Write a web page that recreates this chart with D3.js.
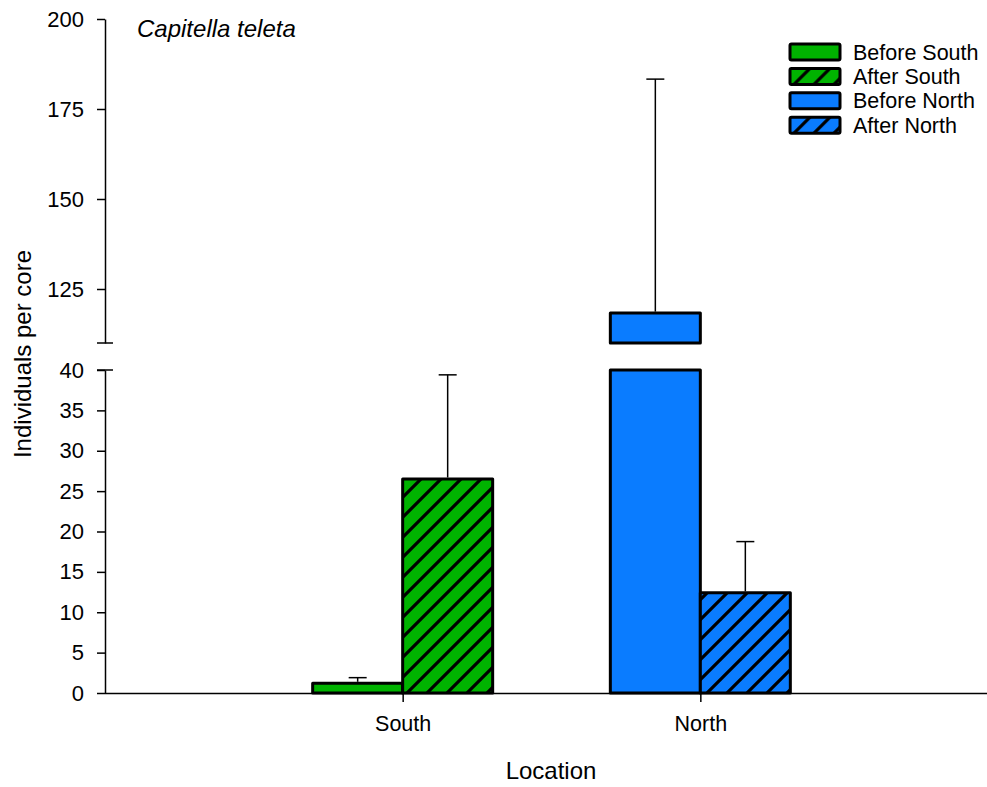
<!DOCTYPE html>
<html>
<head>
<meta charset="utf-8">
<script src="https://cdn.jsdelivr.net/npm/d3@7"></script>
<style>
  html, body { margin: 0; padding: 0; background: #fff; }
  svg { display: block; font-family: "Liberation Sans", Arial, sans-serif; }
</style>
</head>
<body>
<svg id="chart" width="987" height="787"></svg>
<script>
// Capitella teleta abundance, before/after, per location
const locations = ["South", "North"];
const periods = ["Before", "After"];
const seriesNames = ["Before South", "After South", "Before North", "After North"];
const meanValues = [1.2, 26.5, 118.3, 12.4];
const errorTops = [1.9, 39.4, 183.3, 18.75];
const lowerTicks = [0, 5, 10, 15, 20, 25, 30, 35, 40];
const upperTicks = [125, 150, 175, 200];
const lowerDomain = [0, 40];
const upperDomain = [110, 200];

const bars = seriesNames.map((name, i) => ({
  name,
  period: periods[i % 2],
  location: locations[Math.floor(i / 2)],
  value: meanValues[i],
  err: errorTops[i]
}));

const colors = { South: "#00b300", North: "#0a7cff" };

const svg = d3.select("#chart");
const axisX = 105;
const baseY = 693;

// Two y scales for the broken axis
const yLow = d3.scaleLinear().domain(lowerDomain).range([693, 370]);
const yHigh = d3.scaleLinear().domain(upperDomain).range([343, 19]);

const x = d3.scalePoint().domain(locations).range([axisX, 998]).padding(1);
const xSub = d3.scaleBand().domain(periods).range([-90, 90]).padding(0);

// Hatch patterns
const defs = svg.append("defs");
Object.entries(colors).forEach(([loc, col]) => {
  const p = defs.append("pattern")
    .attr("id", "hatch-" + loc)
    .attr("patternUnits", "userSpaceOnUse")
    .attr("width", 20).attr("height", 20);
  p.append("rect").attr("width", 20).attr("height", 20).attr("fill", col);
  p.append("path")
    .attr("d", "M-5,5 L5,-5 M0,20 L20,0 M15,25 L25,15")
    .attr("stroke", "#000").attr("stroke-width", 3.2);
});
const fillFor = d => d.period === "After" ? `url(#hatch-${d.location})` : colors[d.location];

// Bars
const barG = svg.append("g");
bars.forEach(d => {
  const x0 = x(d.location) + xSub(d.period);
  const w = xSub.bandwidth();
  if (d.value <= lowerDomain[1]) {
    barG.append("rect")
      .attr("x", x0).attr("y", yLow(d.value))
      .attr("width", w).attr("height", yLow(0) - yLow(d.value))
      .attr("fill", fillFor(d)).attr("stroke", "#000").attr("stroke-width", 3)
      .attr("stroke-linejoin", "round");
  } else {
    barG.append("rect")
      .attr("x", x0).attr("y", yLow(lowerDomain[1]))
      .attr("width", w).attr("height", yLow(0) - yLow(lowerDomain[1]))
      .attr("fill", fillFor(d)).attr("stroke", "#000").attr("stroke-width", 3)
      .attr("stroke-linejoin", "round");
    barG.append("rect")
      .attr("x", x0).attr("y", yHigh(d.value))
      .attr("width", w).attr("height", yHigh(upperDomain[0]) - yHigh(d.value))
      .attr("fill", fillFor(d)).attr("stroke", "#000").attr("stroke-width", 3)
      .attr("stroke-linejoin", "round");
  }
  // Error bar (upper only)
  const ys = v => v <= lowerDomain[1] ? yLow(v) : yHigh(v);
  const cx = x0 + w / 2;
  const yTop = ys(d.value) - 1.5;
  const yErr = ys(d.err);
  barG.append("line")
    .attr("x1", cx).attr("x2", cx).attr("y1", yTop).attr("y2", yErr)
    .attr("stroke", "#000").attr("stroke-width", 1.5);
  barG.append("line")
    .attr("x1", cx - 9).attr("x2", cx + 9).attr("y1", yErr).attr("y2", yErr)
    .attr("stroke", "#000").attr("stroke-width", 1.5);
});

// Y axes (broken)
function styleAxis(g, size) {
  g.attr("font-size", size).attr("font-family", "'Liberation Sans', Arial, sans-serif");
  g.selectAll("path, line").attr("stroke", "#000").attr("stroke-width", 1.5);
  g.selectAll("text").attr("fill", "#000");
}
const gLow = svg.append("g").attr("transform", `translate(${axisX},0)`)
  .call(d3.axisLeft(yLow).tickValues(lowerTicks).tickSize(8).tickSizeOuter(0).tickPadding(13));
styleAxis(gLow, 22);
const gHigh = svg.append("g").attr("transform", `translate(${axisX},0)`)
  .call(d3.axisLeft(yHigh).tickValues(upperTicks).tickSize(8).tickSizeOuter(0).tickPadding(13));
styleAxis(gHigh, 22);

// Break caps
[yHigh(upperDomain[0]), yLow(lowerDomain[1])].forEach(yy => {
  svg.append("line")
    .attr("x1", axisX - 8).attr("x2", axisX + 8).attr("y1", yy).attr("y2", yy)
    .attr("stroke", "#000").attr("stroke-width", 1.5);
});

// X axis
const gX = svg.append("g").attr("transform", `translate(0,${baseY})`)
  .call(d3.axisBottom(x).tickSize(9).tickSizeOuter(0).tickPadding(14));
gX.select(".domain").attr("d", `M${axisX},0.5H987`);
styleAxis(gX, 21.5);

// Titles
svg.append("text")
  .attr("x", 551).attr("y", 779)
  .attr("text-anchor", "middle").attr("font-size", 24)
  .text("Location");
svg.append("text")
  .attr("transform", "translate(31,354) rotate(-90)")
  .attr("text-anchor", "middle").attr("font-size", 24)
  .text("Individuals per core");
svg.append("text")
  .attr("x", 137).attr("y", 37)
  .attr("font-size", 24).attr("font-style", "italic")
  .text("Capitella teleta");

// Legend
const legend = svg.append("g").attr("transform", "translate(790,44)");
bars.forEach((d, i) => {
  const row = legend.append("g").attr("transform", `translate(0,${i * 24.4})`);
  row.append("rect")
    .attr("x", 0).attr("y", 0).attr("width", 50).attr("height", 16)
    .attr("fill", fillFor(d)).attr("stroke", "#000").attr("stroke-width", 3)
    .attr("rx", 1.5);
  row.append("text")
    .attr("x", 63).attr("y", 8).attr("dy", "0.35em")
    .attr("font-size", 21.5)
    .text(d.name);
});
</script>
</body>
</html>
